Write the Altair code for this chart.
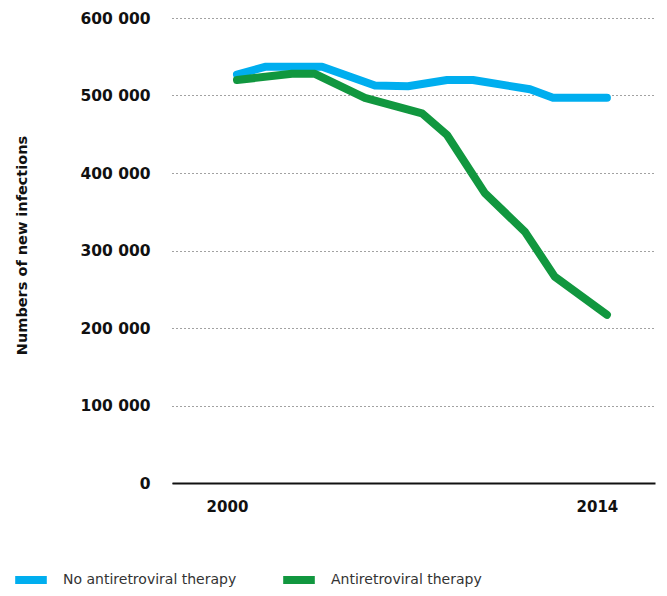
import altair as alt
import pandas as pd

series_names = ["No antiretroviral therapy", "Antiretroviral therapy"]
colors = ["#00AEEF", "#11973F"]

no_art_years = [2000, 2001.06, 2003.22, 2005.22, 2006.47, 2007.95, 2008.93, 2011.09, 2011.96, 2014]
no_art_values = [527000, 537000, 537000, 513000, 512000, 520000, 520000, 508000, 497000, 497000]

art_years = [2000, 2002.08, 2002.95, 2004.84, 2007.0, 2007.95, 2009.38, 2010.9, 2012.03, 2014]
art_values = [520000, 528000, 528000, 497000, 477000, 449000, 374000, 324000, 266000, 217000]

x_ticks = [2000, 2014]
y_ticks = [0, 100000, 200000, 300000, 400000, 500000, 600000]

df_no = pd.DataFrame({"year": no_art_years, "value": no_art_values, "series": series_names[0]})
df_art = pd.DataFrame({"year": art_years, "value": art_values, "series": series_names[1]})

FONT = "DejaVu Sans"

x_enc = alt.X(
    "year:Q",
    scale=alt.Scale(domain=[1997.54, 2015.82], nice=False, zero=False),
    axis=alt.Axis(
        values=x_ticks, format="d", title=None, grid=False, ticks=False,
        domainColor="#111111", domainWidth=2, labelFont=FONT, labelFontWeight="bold",
        labelFontSize=15, labelColor="#111111", labelPadding=16, labelOffset=-10,
    ),
)
y_enc = alt.Y(
    "value:Q",
    scale=alt.Scale(domain=[0, 600000], nice=False),
    axis=alt.Axis(
        values=y_ticks, title="Numbers of new infections", domain=False, ticks=False,
        grid=True, gridDash=[1, 3], gridColor="#444444", gridWidth=1,
        labelExpr="replace(format(datum.value, ','), ',', ' ')",
        labelFont=FONT, labelFontWeight="bold", labelFontSize=15.5, labelColor="#111111",
        labelPadding=22, titleFont=FONT, titleFontWeight="bold", titleFontSize=14.5,
        titleColor="#111111", titleAngle=270, titleX=-150, titleY=227,
        titleAlign="center", titleBaseline="middle",
    ),
)
color_enc = alt.Color(
    "series:N",
    scale=alt.Scale(domain=series_names, range=colors),
    legend=alt.Legend(
        title=None, orient="none", legendX=-161, legendY=542, direction="horizontal",
        symbolType="stroke", symbolStrokeWidth=8, symbolSize=1000,
        labelFont=FONT, labelFontSize=14, labelColor="#333333", labelOffset=12,
        labelLimit=400, columnPadding=30, padding=0,
    ),
)

line_no = alt.Chart(df_no).mark_line(strokeWidth=8, strokeCap="round", strokeJoin="round").encode(
    x=x_enc, y=y_enc, color=color_enc
)
line_art = alt.Chart(df_art).mark_line(strokeWidth=8, strokeCap="round", strokeJoin="round").encode(
    x=x_enc, y=y_enc, color=color_enc
)

chart = alt.layer(line_no, line_art).properties(
    width=483, height=465,
    autosize=alt.AutoSizeParams(type="none"),
    padding={"left": 164, "top": 10, "right": 4, "bottom": 105},
).configure_view(stroke=None)

chart.save("out.html", embed_options={"renderer": "svg", "actions": False})
